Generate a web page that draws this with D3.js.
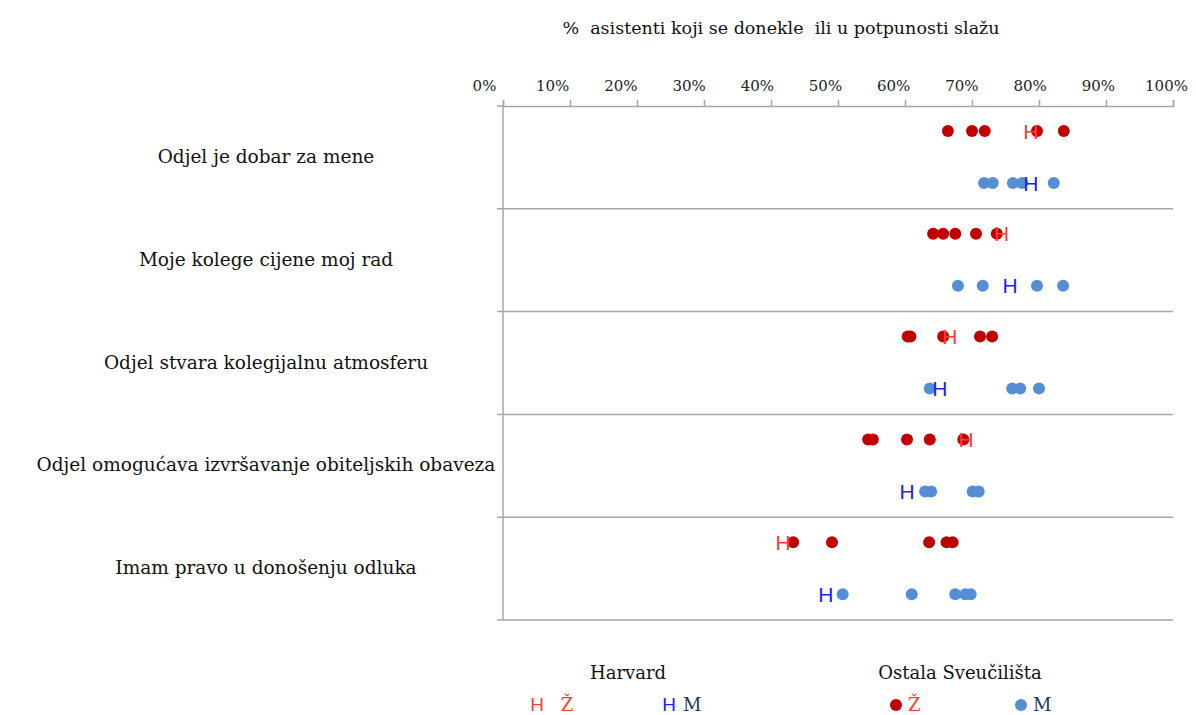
<!DOCTYPE html>
<html>
<head>
<meta charset="utf-8">
<script src="https://cdn.jsdelivr.net/npm/d3@7"></script>
<style>
  body { margin: 0; background: #fff; }
  svg { font-family: "DejaVu Serif", serif; }
  .grid line, .grid path { stroke: #a6a6a6; stroke-width: 1.5; }
</style>
</head>
<body>
<div id="chart"></div>
<script>
"use strict"

// Dot plot: Harvard (H) vs. other universities (dots)

var categories = [
  "Odjel je dobar za mene",
  "Moje kolege cijene moj rad",
  "Odjel stvara kolegijalnu atmosferu",
  "Odjel omogućava izvršavanje obiteljskih obaveza",
  "Imam pravo u donošenju odluka"
]

// other universities, female / male
var otherF = [
  [66.4, 70.0, 71.9, 79.7, 83.7],
  [64.2, 65.7, 67.5, 70.6, 73.7],
  [60.4, 60.8, 65.7, 71.2, 73.0],
  [54.5, 55.2, 60.3, 63.7, 68.7],
  [43.3, 49.1, 63.6, 66.2, 67.1]
]
var otherM = [
  [71.8, 73.1, 76.1, 77.5, 82.2],
  [67.9, 71.6, 79.7, 83.6],
  [63.7, 76.0, 77.2, 80.0],
  [63.0, 63.9, 70.1, 71.0],
  [50.7, 61.0, 67.5, 69.0, 69.8]
]

// Harvard, female / male
var harvardF = [78.8, 74.4, 66.7, 69.1, 41.8]
var harvardM = [78.8, 75.7, 65.2, 60.3, 48.2]

var ticks = [0, 10, 20, 30, 40, 50, 60, 70, 80, 90, 100]

var width = 1196
var height = 715

var colorF = "#c00000"
var colorM = "#558ed5"
var colorHF = "#ff3b3b"
var colorHM = "#2222ee"

var x = d3.scaleLinear()
  .domain([0, 100])
  .range([503, 1173])

var y = d3.scaleBand()
  .domain(d3.range(categories.length))
  .range([106, 620])

var svg = d3.select("#chart").append("svg")
  .attr("width", width)
  .attr("height", height)

svg.append("text")
  .attr("x", 781)
  .attr("y", 34)
  .attr("text-anchor", "middle")
  .style("font-size", "17.5px")
  .style("white-space", "pre")
  .attr("fill", "#111")
  .text("%  asistenti koji se donekle  ili u potpunosti slažu")

// top axis (labels sit a little left of their ticks, as in the original)
var xAxis = svg.append("g")
  .attr("class", "grid")
  .attr("transform", "translate(0," + y.range()[0] + ")")
  .call(d3.axisTop(x)
    .tickValues(ticks)
    .tickSize(6)
    .tickPadding(9)
    .tickFormat(function(d) { return d + "%" }))
xAxis.selectAll("text")
  .attr("fill", "#222")
  .attr("dx", function(d) { return -19 + 12 * d / 100 })
  .style("font-family", "DejaVu Serif, serif")
  .style("font-size", "15px")

// row separators
var bounds = d3.range(categories.length + 1).map(function(i) {
  return i < categories.length ? y(i) : y.range()[1]
})
var grid = svg.append("g").attr("class", "grid")
grid.selectAll("line.row")
  .data(bounds.slice(1))
  .enter().append("line")
    .attr("class", "row")
    .attr("x1", x(0) - 6)
    .attr("x2", x(100))
    .attr("y1", function(d) { return d })
    .attr("y2", function(d) { return d })
grid.selectAll("line.tickY")
  .data(bounds.slice(0, 1))
  .enter().append("line")
    .attr("class", "tickY")
    .attr("x1", x(0) - 6)
    .attr("x2", x(0))
    .attr("y1", function(d) { return d })
    .attr("y2", function(d) { return d })
grid.append("line")
  .attr("x1", x(0))
  .attr("x2", x(0))
  .attr("y1", y.range()[0])
  .attr("y2", y.range()[1])

// category labels
svg.append("g").selectAll("text")
  .data(categories)
  .enter().append("text")
    .attr("x", 266)
    .attr("y", function(d, i) { return y(i) + y.bandwidth() / 2 })
    .attr("dy", "0.3em")
    .attr("text-anchor", "middle")
    .style("font-size", "18.5px")
    .attr("fill", "#111")
    .text(function(d) { return d })

var offF = 25
var offM = 77

function dots(data, off, color) {
  data.forEach(function(row, i) {
    svg.append("g").selectAll("circle")
      .data(row)
      .enter().append("circle")
        .attr("cx", function(d) { return x(d) })
        .attr("cy", y(i) + off)
        .attr("r", 6)
        .attr("fill", color)
  })
}

function hMarks(data, off, color) {
  svg.append("g").selectAll("text")
    .data(data)
    .enter().append("text")
      .attr("x", function(d) { return x(d) })
      .attr("y", function(d, i) { return y(i) + off })
      .attr("dy", "0.36em")
      .attr("text-anchor", "middle")
      .style("font-family", "Liberation Sans, Arial, sans-serif")
      .style("font-size", "21px")
      .attr("fill", color)
      .text("H")
}

dots(otherF, offF, colorF)
dots(otherM, offM, colorM)
hMarks(harvardF, offF, colorHF)
hMarks(harvardM, offM, colorHM)

// legend
var leg = svg.append("g").style("font-size", "18px")
leg.append("text").attr("x", 628).attr("y", 679)
  .attr("text-anchor", "middle").attr("fill", "#111").text("Harvard")
leg.append("text").attr("x", 960).attr("y", 679)
  .attr("text-anchor", "middle").attr("fill", "#111").text("Ostala Sveučilišta")

var hs = "Liberation Sans, Arial, sans-serif"
var legY = 711
leg.append("text").attr("x", 537).attr("y", legY).attr("text-anchor", "middle")
  .style("font-family", hs).style("font-size", "19px").attr("fill", colorHF).text("H")
leg.append("text").attr("x", 567).attr("y", legY).attr("text-anchor", "middle")
  .attr("fill", colorHF).text("Ž")
leg.append("text").attr("x", 669).attr("y", legY).attr("text-anchor", "middle")
  .style("font-family", hs).style("font-size", "19px").attr("fill", colorHM).text("H")
leg.append("text").attr("x", 683).attr("y", legY)
  .attr("fill", "#1f3864").text("M")

leg.append("circle").attr("cx", 896).attr("cy", 705).attr("r", 6).attr("fill", colorF)
leg.append("text").attr("x", 908).attr("y", legY)
  .attr("fill", colorHF).text("Ž")
leg.append("circle").attr("cx", 1021).attr("cy", 705).attr("r", 6).attr("fill", colorM)
leg.append("text").attr("x", 1033).attr("y", legY)
  .attr("fill", "#1f3864").text("M")
</script>
</body>
</html>
